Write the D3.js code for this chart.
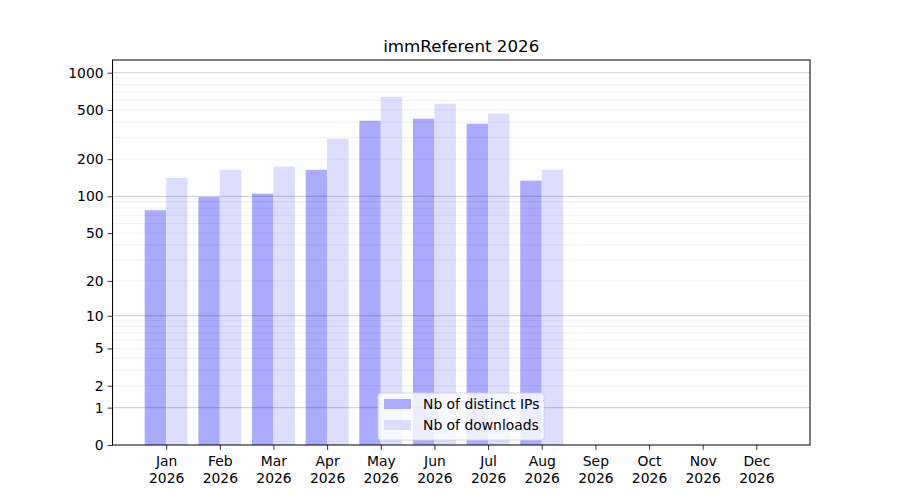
<!DOCTYPE html>
<html>
<head>
<meta charset="utf-8">
<script src="https://cdn.jsdelivr.net/npm/d3@7"></script>
<style>
  body { margin: 0; background: #fff; }
  text { font-family: "DejaVu Sans", sans-serif; fill: #000; }
</style>
</head>
<body>
<div id="chart"></div>
<script>
const months = ["Jan", "Feb", "Mar", "Apr", "May", "Jun", "Jul", "Aug", "Sep", "Oct", "Nov", "Dec"];
const year = "2026";
const distinctIPs = [77, 99, 105, 164, 409, 425, 387, 134, 0, 0, 0, 0];
const downloads = [141, 164, 174, 293, 639, 561, 466, 164, 0, 0, 0, 0];
const yTicks = [0, 1, 2, 5, 10, 20, 50, 100, 200, 500, 1000];
const majorGrid = [1, 10, 100, 1000];
const minorGrid = [2, 3, 4, 5, 6, 7, 8, 9, 20, 30, 40, 50, 60, 70, 80, 90,
  200, 300, 400, 500, 600, 700, 800, 900];

const width = 900, height = 500;
const margin = ({ top: 60, right: 90, bottom: 55, left: 112.5 });

const svg = d3.select("#chart")
  .append("svg")
  .attr("width", width)
  .attr("height", height);

let x = d3.scaleLinear()
  .domain([-1, 12])
  .range([margin.left, width - margin.right]);

let y = d3.scaleSymlog()
  .constant(1)
  .domain([0, 1265])
  .range([height - margin.bottom, margin.top]);

const barW = x(0.4) - x(0);

// bars
svg.append("g")
  .selectAll("rect")
  .data(distinctIPs)
  .join("rect")
  .attr("x", (d, i) => x(i) - barW)
  .attr("y", d => y(d))
  .attr("width", barW)
  .attr("height", d => y(0) - y(d))
  .attr("fill", "#aaaaff");

svg.append("g")
  .selectAll("rect")
  .data(downloads)
  .join("rect")
  .attr("x", (d, i) => x(i))
  .attr("y", d => y(d))
  .attr("width", barW)
  .attr("height", d => y(0) - y(d))
  .attr("fill", "#ddddff");

// grid lines (drawn above the bars like matplotlib)
svg.append("g")
  .selectAll("line")
  .data(minorGrid)
  .join("line")
  .attr("x1", margin.left)
  .attr("x2", width - margin.right)
  .attr("y1", d => y(d))
  .attr("y2", d => y(d))
  .attr("stroke", "#000")
  .attr("stroke-opacity", 0.07)
  .attr("stroke-width", 0.8);

svg.append("g")
  .selectAll("line")
  .data(majorGrid)
  .join("line")
  .attr("x1", margin.left)
  .attr("x2", width - margin.right)
  .attr("y1", d => y(d))
  .attr("y2", d => y(d))
  .attr("stroke", "#000")
  .attr("stroke-opacity", 0.25)
  .attr("stroke-width", 0.8);

// axes
const yAxis = svg.append("g")
  .attr("transform", `translate(${margin.left},0)`)
  .call(d3.axisLeft(y).tickValues(yTicks).tickFormat(d3.format("d")).tickSize(4.9).tickPadding(4))
  .call(g => g.select(".domain").remove());
yAxis.selectAll("text").style("font-size", "13.9px").attr("font-family", "DejaVu Sans");
yAxis.selectAll("line").attr("stroke-width", 0.8);

const xAxis = svg.append("g")
  .attr("transform", `translate(0,${height - margin.bottom})`)
  .call(d3.axisBottom(x).tickValues(d3.range(months.length)).tickFormat(i => months[i]).tickSize(4.9).tickPadding(6))
  .call(g => g.select(".domain").remove());
xAxis.selectAll("line").attr("stroke-width", 0.8);
xAxis.selectAll("text")
  .style("font-size", "13.9px")
  .attr("font-family", "DejaVu Sans")
  .text(null)
  .each(function (i) {
    const t = d3.select(this);
    t.append("tspan").attr("x", 0).attr("dy", "0.76em").text(months[i]);
    t.append("tspan").attr("x", 0).attr("dy", "1.2em").text(year);
  })
  .attr("dy", null);

// frame
svg.append("rect")
  .attr("x", margin.left)
  .attr("y", margin.top)
  .attr("width", width - margin.right - margin.left)
  .attr("height", height - margin.bottom - margin.top)
  .attr("fill", "none")
  .attr("stroke", "#000")
  .attr("stroke-width", 1);

// title
svg.append("text")
  .attr("x", (margin.left + width - margin.right) / 2)
  .attr("y", margin.top - 8)
  .attr("text-anchor", "middle")
  .style("font-size", "16.7px")
  .text("immReferent 2026");

// legend
const legend = svg.append("g").attr("transform", "translate(378,393)");
legend.append("rect")
  .attr("width", 166)
  .attr("height", 47)
  .attr("rx", 3)
  .attr("fill", "#fff")
  .attr("fill-opacity", 0.8)
  .attr("stroke", "#d0d0d0")
  .attr("stroke-width", 0.8);

const entries = [["Nb of distinct IPs", "#aaaaff"], ["Nb of downloads", "#ddddff"]];
entries.forEach(([label, color], k) => {
  legend.append("rect")
    .attr("x", 6)
    .attr("y", 6 + k * 21)
    .attr("width", 27)
    .attr("height", 10)
    .attr("fill", color);
  legend.append("text")
    .attr("x", 45)
    .attr("y", 11 + k * 21)
    .attr("dominant-baseline", "central")
    .style("font-size", "13.9px")
    .text(label);
});
</script>
</body>
</html>
